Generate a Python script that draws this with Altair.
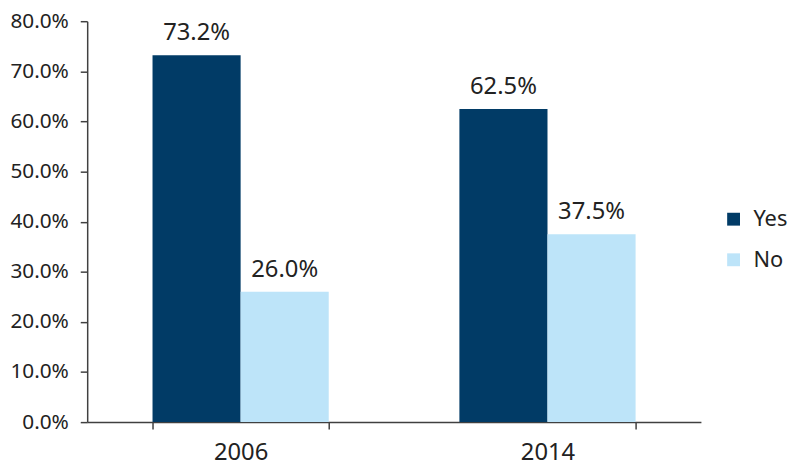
import altair as alt
import pandas as pd

years = ["2006", "2006", "2014", "2014"]
answers = ["Yes", "No", "Yes", "No"]
shares = [0.732, 0.260, 0.625, 0.375]

df = pd.DataFrame({"year": years, "answer": answers, "share": shares})

FONT = "Noto Sans"
FS = 24
order = ["Yes", "No"]

base = alt.Chart(df).encode(
    x=alt.X("year:N", title=None,
            scale=alt.Scale(paddingInner=0.4258, paddingOuter=0.2129),
            axis=alt.Axis(labelAngle=0, tickBand="extent", tickSize=7, labelPadding=12,
                          domainColor="#404040", tickColor="#404040", domainWidth=1.5,
                          tickWidth=1.5, labelFontSize=FS, labelColor="#222222",
                          labelFont=FONT, grid=False)),
    xOffset=alt.XOffset("answer:N", sort=order, scale=alt.Scale(paddingInner=0, paddingOuter=0)),
)

bars = base.mark_bar().encode(
    y=alt.Y("share:Q", title=None,
            scale=alt.Scale(domain=[0, 0.8], nice=False),
            axis=alt.Axis(format=".1%", values=[0, 0.1, 0.2, 0.3, 0.4, 0.5, 0.6, 0.7, 0.8],
                          tickSize=7, labelPadding=12, domainColor="#404040",
                          tickColor="#404040", domainWidth=1.5, tickWidth=1.5,
                          labelFontSize=21, labelColor="#222222", labelFont=FONT,
                          grid=False)),
    color=alt.Color("answer:N", sort=order,
                    scale=alt.Scale(domain=order, range=["#013B66", "#BDE4F9"]),
                    legend=alt.Legend(title=None, orient="none", legendX=642, legendY=189,
                                      symbolType="square", symbolSize=169,
                                      symbolStrokeWidth=0, labelFontSize=22,
                                      labelFont=FONT, labelColor="#222222",
                                      rowPadding=19, labelOffset=9)),
)

labels = base.mark_text(baseline="alphabetic", dy=-15, fontSize=FS, font=FONT,
                        color="#222222").encode(
    y=alt.Y("share:Q"),
    text=alt.Text("share:Q", format=".1%"),
)

chart = alt.layer(bars, labels).properties(
    width=620, height=405,
    autosize=alt.AutoSizeParams(type="none"),
    padding={"left": 80, "top": 11, "right": 92, "bottom": 44},
).configure_view(stroke=None)

chart.save("out.html", embed_options={"renderer": "svg", "actions": False})
